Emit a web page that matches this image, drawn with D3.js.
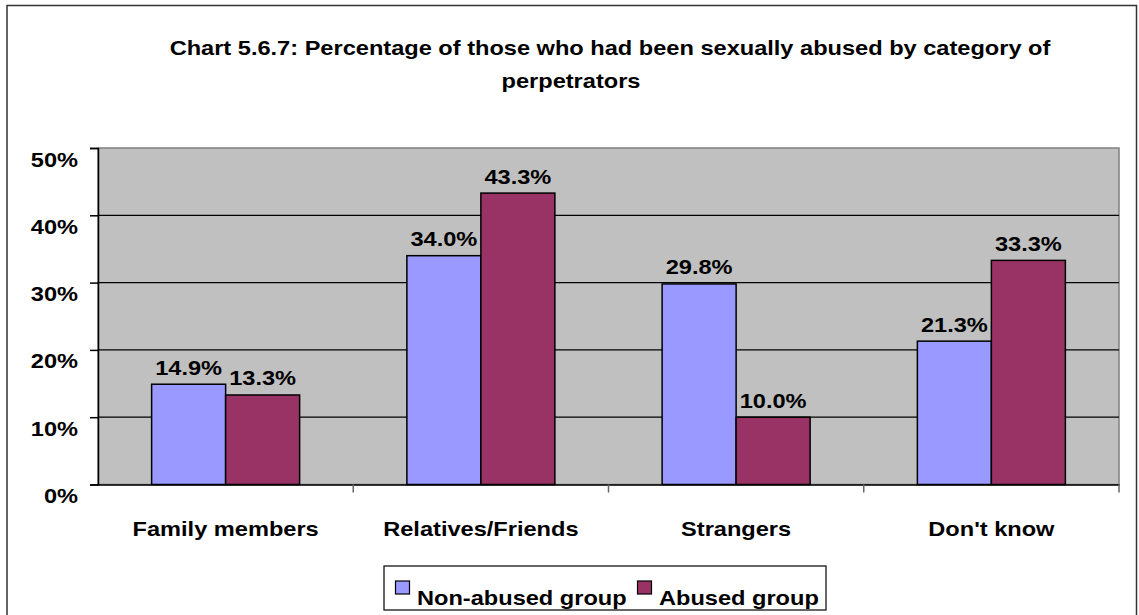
<!DOCTYPE html>
<html>
<head>
<meta charset="utf-8">
<script src="https://cdn.jsdelivr.net/npm/d3@7"></script>
<style>
  body { margin: 0; background: #fff; }
  svg { display: block; font-family: "Liberation Sans", Arial, sans-serif; font-weight: bold; }
</style>
</head>
<body>
<svg id="chart" width="1139" height="615"></svg>
<script>
// data
var categories = ["Family members", "Relatives/Friends", "Strangers", "Don't know"];
var seriesNames = ["Non-abused group", "Abused group"];
var nonAbused = [14.9, 34.0, 29.8, 21.3];
var abused = [13.3, 43.3, 10.0, 33.3];
var yTicks = [0, 10, 20, 30, 40, 50];
var colors = ["#9999ff", "#993366"];

var svg = d3.select("#chart");
var SX = 1.18;   // glyphs in the original are drawn wider than normal
var FS = 20;

// put a text at (x,y) stretched horizontally
function wideText(parent, x, y, str, anchor) {
	return parent.append("text")
		.attr("transform", "translate(" + x + "," + y + ") scale(" + SX + ",1)")
		.attr("text-anchor", anchor || "middle")
		.attr("font-size", FS)
		.text(str);
}

// outer border
svg.append("rect")
    .attr("x", 7).attr("y", 5.5)
    .attr("width", 1129.5).attr("height", 615)
    .attr("fill", "#fff").attr("stroke", "#333").attr("stroke-width", 1.5);

// title
wideText(svg, 610, 55, "Chart 5.6.7: Percentage of those who had been sexually abused by category of");
wideText(svg, 571, 88, "perpetrators");

var plot = { left: 98, top: 148, right: 1119, bottom: 484.5 };

var x = d3.scaleBand().domain(categories).range([plot.left, plot.right]);
var x1 = d3.scaleBand().domain(seriesNames).range([0, 148]);
var y = d3.scaleLinear().domain([0, 50]).range([plot.bottom, plot.top]);

// plot background
svg.append("rect")
    .attr("x", plot.left).attr("y", plot.top)
    .attr("width", plot.right - plot.left).attr("height", plot.bottom - plot.top)
    .attr("fill", "#c0c0c0").attr("stroke", "#808080").attr("stroke-width", 1.5);

// gridlines
svg.append("g").selectAll("line").data(yTicks.filter(function(d){ return d > 0 && d < 50; }))
    .enter().append("line")
    .attr("x1", plot.left).attr("x2", plot.right)
    .attr("y1", function(d){ return y(d); }).attr("y2", function(d){ return y(d); })
    .attr("stroke", "#000").attr("stroke-width", 1.2);

// bars
var data = categories.map(function(c, i){ return { cat: c, vals: [nonAbused[i], abused[i]] }; });
var groups = svg.append("g").selectAll("g").data(data).enter().append("g")
    .attr("transform", function(d){ return "translate(" + (x(d.cat) + x.bandwidth()/2 - 74) + ",0)"; });

groups.selectAll("rect").data(function(d){ return d.vals.map(function(v, j){ return { s: seriesNames[j], v: v, j: j }; }); })
    .enter().append("rect")
    .attr("x", function(d){ return x1(d.s); })
    .attr("y", function(d){ return y(d.v); })
    .attr("width", x1.bandwidth())
    .attr("height", function(d){ return y(0) - y(d.v); })
    .attr("fill", function(d){ return colors[d.j]; })
    .attr("stroke", "#000").attr("stroke-width", 1.5);

// value labels
groups.each(function(d){
	var g = d3.select(this);
	d.vals.forEach(function(v, j){
		wideText(g, x1(seriesNames[j]) + x1.bandwidth()/2, y(v) - 9.5, v.toFixed(1) + "%");
	});
});

// y axis
var yAxis = svg.append("g")
    .attr("transform", "translate(" + plot.left + ",0)")
    .call(d3.axisLeft(y).tickValues(yTicks).tickSize(8).tickPadding(12)
        .tickFormat(function(d){ return d + "%"; }));
yAxis.selectAll("text")
    .attr("font-size", FS).attr("font-family", "inherit").attr("font-weight", "bold")
    .attr("x", 0).attr("dy", "0.9em")
    .attr("transform", "translate(-20,0) scale(" + SX + ",1)");
yAxis.select(".domain").attr("stroke", "#000").attr("stroke-width", 1.5);
yAxis.selectAll(".tick line").attr("stroke", "#000").attr("stroke-width", 1.5);

// x axis
var xAxis = svg.append("g")
    .attr("transform", "translate(0," + plot.bottom + ")")
    .call(d3.axisBottom(x).tickSize(0).tickPadding(37));
xAxis.select(".domain").attr("stroke", "#000").attr("stroke-width", 1.5);
xAxis.selectAll("text")
    .attr("font-size", FS).attr("font-family", "inherit").attr("font-weight", "bold")
    .attr("transform", "scale(" + SX + ",1)")
    .attr("x", 0);
xAxis.selectAll(".tick").each(function(){
	var t = d3.select(this).select("text");
	t.attr("transform", "scale(" + SX + ",1)");
});
// category separator ticks
svg.append("g").selectAll("line").data(categories.slice(1).concat(["end"]))
    .enter().append("line")
    .attr("x1", function(d){ return d === "end" ? plot.right : x(d); })
    .attr("x2", function(d){ return d === "end" ? plot.right : x(d); })
    .attr("y1", plot.bottom).attr("y2", plot.bottom + 8)
    .attr("stroke", "#666").attr("stroke-width", 1.5);

// legend
var legend = svg.append("g");
legend.append("rect")
    .attr("x", 384).attr("y", 566).attr("width", 442).attr("height", 44)
    .attr("fill", "#fff").attr("stroke", "#000").attr("stroke-width", 1.2);
var legX = [395, 637];
var items = legend.selectAll("g").data(seriesNames).enter().append("g")
    .attr("transform", function(d, i){ return "translate(" + legX[i] + ",0)"; });
items.append("rect")
    .attr("x", 0.5).attr("y", 581).attr("width", 14).attr("height", 13)
    .attr("fill", function(d, i){ return colors[i]; })
    .attr("stroke", "#000").attr("stroke-width", 1.2);
items.each(function(d){
	wideText(d3.select(this), 22, 605, d, "start");
});
</script>
</body>
</html>
